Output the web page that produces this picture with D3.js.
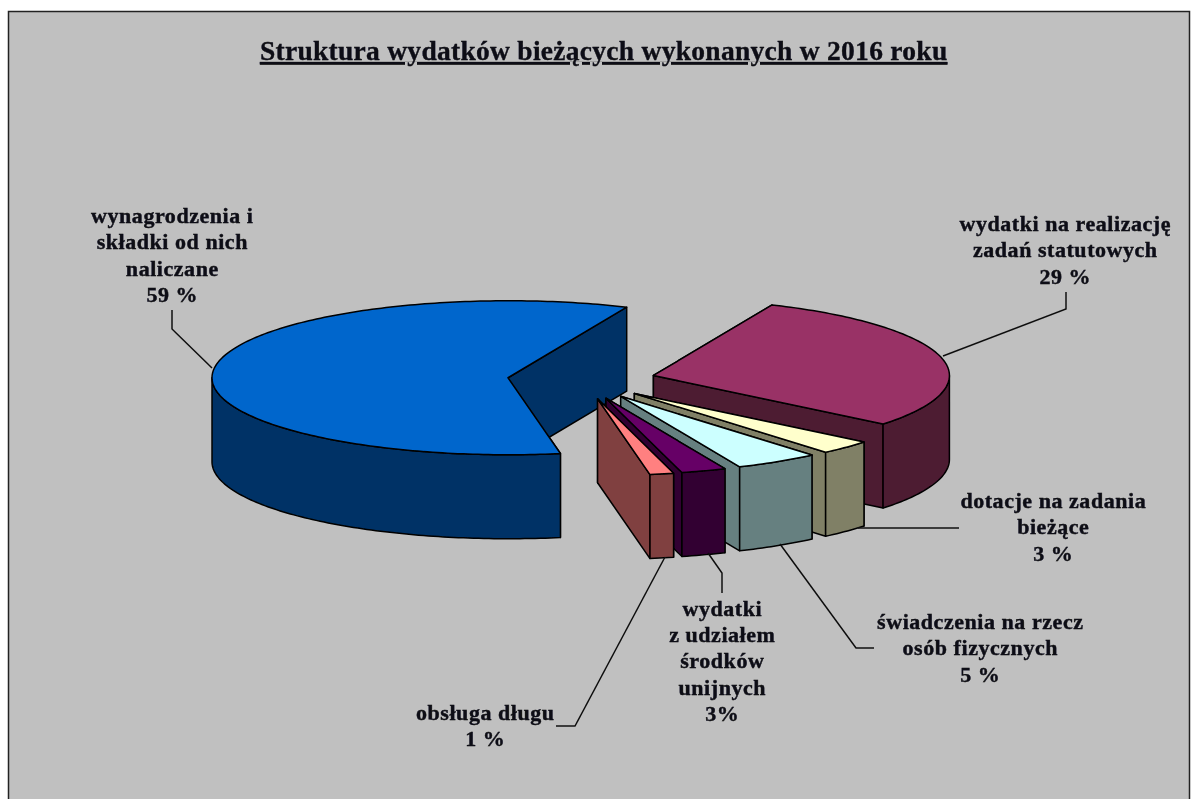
<!DOCTYPE html>
<html><head><meta charset="utf-8">
<script src="https://cdn.jsdelivr.net/npm/d3@7"></script>
<style>html,body{margin:0;padding:0;background:#fff;overflow:hidden}svg{display:block}</style>
</head><body><svg id="c" width="1196" height="799"></svg>
<script>
const titleText = "Struktura wydatków bieżących wykonanych w 2016 roku";
const categories = ["wynagrodzenia","realizacja","dotacje","swiadczenia","unijne","obsluga"];
const shares = [59.4, 29.3, 2.95, 4.6, 2.45, 1.3];
const topColors = ["#0066CC","#993366","#FFFFCC","#CCFFFF","#660066","#FF8080"];
const sideColors = ["#003366","#4D1A33","#808066","#668080","#330033","#804040"];
const labelLines = [
  ["wynagrodzenia i","składki od nich","naliczane","59 %"],
  ["wydatki na realizację","zadań statutowych","29 %"],
  ["dotacje na zadania","bieżące","3 %"],
  ["świadczenia na rzecz","osób fizycznych","5 %"],
  ["wydatki","z udziałem","środków","unijnych","3%"],
  ["obsługa długu","1 %"]
];
const W=1196,H=799, cx=581.5, cy=380, rx=296, ry=77, depth=84, explode=0.25;
const svg=d3.select("#c");
const defs=svg.append("defs");
defs.append("filter").attr("id","soft").attr("x","-5%").attr("y","-5%").attr("width","110%").attr("height","110%")
  .append("feGaussianBlur").attr("stdDeviation",0.5);
svg.append("rect").attr("x",8.5).attr("y",11.5).attr("width",1181).attr("height",800)
  .attr("fill","#C0C0C0").attr("stroke","#222").attr("stroke-width",1.5);
const root=svg.append("g").attr("filter","url(#soft)");
const deg=Math.PI/180;
const start=169.8*deg;
const pie=d3.pie().sort(null).startAngle(start).endAngle(start+2*Math.PI);
const arcs=pie(shares);
const sx=d3.scaleLinear().domain([-1,1]).range([-rx,rx]);
const sy=d3.scaleLinear().domain([-1,1]).range([-ry,ry]);
const pt=(c,a,dz=0)=>[c[0]+sx(Math.sin(a)),c[1]-sy(Math.cos(a))+dz];
const line=d3.line();
const sample=(c,a0,a1,dz)=>{const n=Math.max(2,Math.ceil(Math.abs(a1-a0)/(1*deg)));
  return d3.range(n+1).map(i=>pt(c,a0+(a1-a0)*i/n,dz));};
const g=root.append("g").attr("stroke","#000").attr("stroke-width",1.5).attr("stroke-linejoin","round");
// front-facing interval of the rim: parametric 90..270 deg (mod 360)
function rim(a0,a1){const out=[];for(const k of [0,1]){const lo=Math.max(a0,(90+360*k)*deg),hi=Math.min(a1,(270+360*k)*deg);if(hi>lo)out.push([lo,hi]);}return out;}
arcs.forEach((d,i)=>{
  const mid=(d.startAngle+d.endAngle)/2;
  const c=[cx+explode*sx(Math.sin(mid)),cy-explode*sy(Math.cos(mid))];
  const s=sideColors[i],t=topColors[i];
  const wall=a=>{const p=pt(c,a);g.append("path").attr("d",line([c,p,[p[0],p[1]+depth],[c[0],c[1]+depth]])+"Z").attr("fill",s);};
  wall(d.startAngle);wall(d.endAngle);
  rim(d.startAngle,d.endAngle).forEach(([lo,hi])=>{
    const up=sample(c,lo,hi,0),dn=sample(c,hi,lo,depth);
    g.append("path").attr("d",line(up.concat(dn))+"Z").attr("fill",s);
  });
  g.append("path").attr("d",line([c].concat(sample(c,d.startAngle,d.endAngle,0)))+"Z").attr("fill",t);
});
// leaders
const leaders=[
 [[172,310],[172,329],[212,368]],
 [[1066,292],[1066,309],[943,356]],
 [[858,528],[959,528]],
 [[780,544],[856,648],[874,648]],
 [[708,553],[722,573],[722,593]],
 [[665,557],[575,726],[556,726]]
];
root.append("g").attr("fill","none").attr("stroke","#111").attr("stroke-width",1.5)
  .selectAll("path").data(leaders).join("path").attr("d",d=>line(d));
// labels
const labelPos=[[172,[223,249,276,302]],[1065,[231,257,284]],[1053,[508,534,561]],[980,[629,655,682]],[722,[616,642,668,695,721]],[485,[720,746]]];
const tg=root.append("g").attr("font-family","'Liberation Serif',serif").attr("font-weight","bold").attr("font-size",20).attr("letter-spacing",0.5).attr("fill","#0a0a14").attr("stroke","#0a0a14").attr("stroke-width",0.35).attr("text-anchor","middle");
labelLines.forEach((ls,i)=>ls.forEach((t,j)=>tg.append("text").attr("transform",`translate(${labelPos[i][0]+0.3},${labelPos[i][1][j]}) scale(1.1,1)`).text(t)));
root.append("text").attr("x",603.7).attr("y",60).attr("text-anchor","middle")
  .attr("font-family","'Liberation Serif',serif").attr("font-weight","bold").attr("font-size",27.5).attr("letter-spacing",0.28)
  .attr("text-decoration","underline").attr("fill","#0a0a14").attr("stroke","#0a0a14").attr("stroke-width",0.3).text(titleText);
</script></body></html>
